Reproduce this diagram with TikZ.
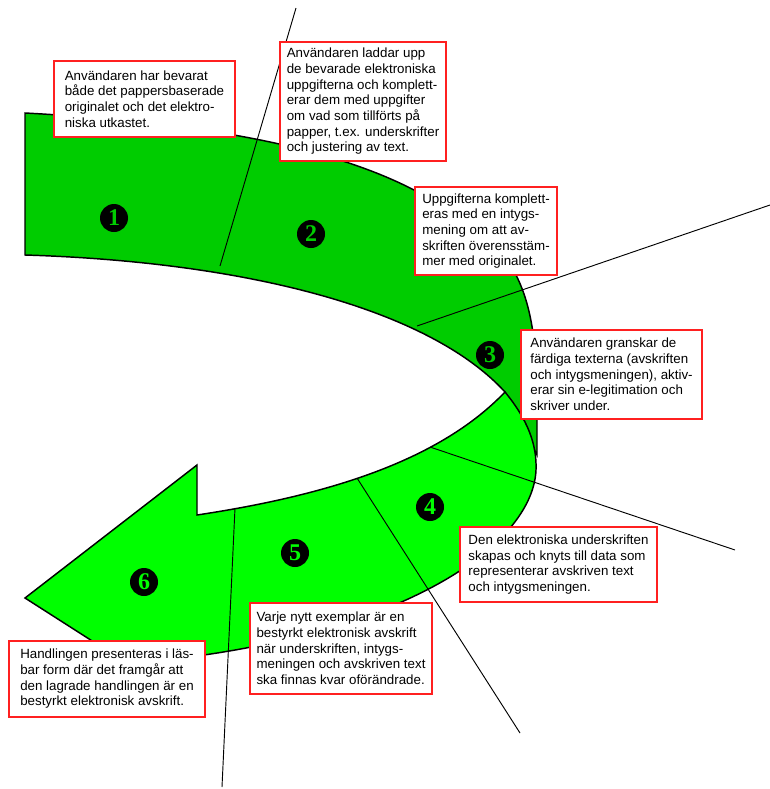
\documentclass[tikz,border=0pt]{standalone}
\usepackage{fontspec}
\setmainfont{Liberation Sans}
\newfontfamily\numfont{Liberation Serif}
\definecolor{darkband}{HTML}{00CC00}
\definecolor{lightband}{HTML}{00FF00}
\definecolor{noteframe}{HTML}{FF2020}
\tikzset{
    band/.style={draw=black, line width=1.1pt, line join=miter},
    divider/.style={draw=black, line width=0.7pt},
    note/.style={draw=noteframe, fill=white, line width=1pt, align=left, inner sep=0pt,
        font=\fontsize{10}{11.75}\selectfont},
    stepnum/.style={circle, fill=black, inner sep=0pt, minimum size=21pt,
        font=\fontsize{18}{18}\selectfont\numfont\bfseries}
}
\NewDocumentCommand{\drawnote}{m m m m m m}{
    \def\noteW{#4}
    \def\noteH{#5}
    \node[note, minimum width=\noteW*0.75pt, minimum height=\noteH*0.75pt] (#1) at (#2,#3) {#6};
}
\newcommand{\drawnum}[4]{
    \node[stepnum, text=#4] (#1) at (#2) {#3};
}

\begin{document}
\begin{tikzpicture}[x=0.75pt, y=-0.75pt]
    \useasboundingbox (0,0) rectangle (770,789);

    % Upper band (steps 1-3)
    \draw[band, fill=darkband] (25,113) .. controls (250,125) and (370,160) .. (440,205)
        .. controls (515,245) and (537,290) .. (537,400)
        -- (537,455) -- (505,392) .. controls (430,310) and (250,262) .. (25,255) -- cycle;

    % Lower band with arrow head (steps 4-6)
    \draw[band, fill=lightband] (505,392) .. controls (528,420) and (537,445) .. (536,470)
        .. controls (533,540) and (420,625) .. (197,656) -- (197,708) -- (25,598)
        -- (197,465) -- (197,515) .. controls (330,495) and (440,460) .. (505,392) -- cycle;

    % Dividers
    \coordinate (d1a) at (296,8);   \coordinate (d1b) at (220,266);
    \coordinate (d2a) at (770,205); \coordinate (d2b) at (417,326);
    \coordinate (d3a) at (735,550); \coordinate (d3b) at (430,447);
    \coordinate (d4a) at (520,733); \coordinate (d4b) at (357,478);
    \coordinate (d5a) at (222,787); \coordinate (d5b) at (235,508);
    \foreach \d in {d1,d2,d3,d4,d5}
        \draw[divider] (\d a) -- (\d b);

    % Step numbers
    \drawnum{s1}{114,218}{1}{darkband}
    \drawnum{s2}{311,234}{2}{darkband}
    \drawnum{s3}{490,355}{3}{darkband}
    \drawnum{s4}{430,507}{4}{lightband}
    \drawnum{s5}{295,553}{5}{lightband}
    \drawnum{s6}{144,582}{6}{lightband}

    % Notes
    \drawnote{n1}{144.5}{99}{181}{76}{Användaren har bevarat\\både det pappersbaserade\\originalet och det elektro-\\niska utkastet.}
    \drawnote{n2}{363}{101.5}{166}{119}{Användaren laddar upp\\de bevarade elektroniska\\uppgifterna och komplett-\\erar dem med uppgifter\\om vad som tillförts på\\papper, t.ex. underskrifter\\och justering av text.}
    \drawnote{n3}{486}{231}{142}{88}{Uppgifterna komplett-\\eras med en intygs-\\mening om att av-\\skriften överensstäm-\\mer med originalet.}
    \drawnote{n4}{611.5}{374.5}{181}{89}{Användaren granskar de\\färdiga texterna (avskriften\\och intygsmeningen), aktiv-\\erar sin e-legitimation och\\skriver under.}
    \drawnote{n5}{558.5}{564.5}{197}{75}{Den elektroniska underskriften\\skapas och knyts till data som\\representerar avskriven text\\och intygsmeningen.}
    \drawnote{n6}{341}{648.5}{182}{91}{Varje nytt exemplar är en\\bestyrkt elektronisk avskrift\\när underskriften, intygs-\\meningen och avskriven text\\ska finnas kvar oförändrade.}
    \drawnote{n7}{107}{679}{196}{76}{Handlingen presenteras i läs-\\bar form där det framgår att\\den lagrade handlingen är en\\bestyrkt elektronisk avskrift.}
\end{tikzpicture}
\end{document}
